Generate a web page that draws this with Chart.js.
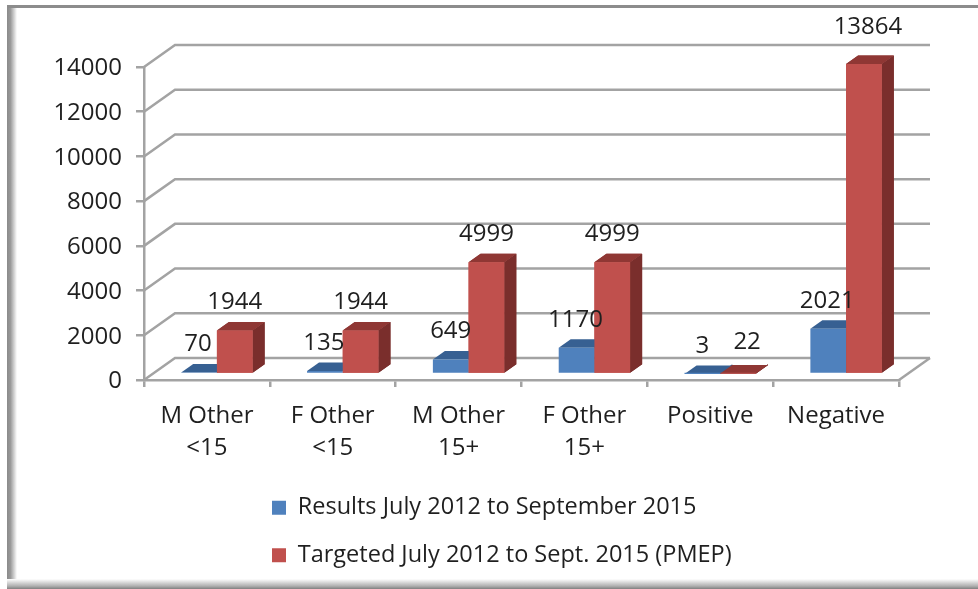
<!DOCTYPE html>
<html><head><meta charset="utf-8">
<style>html,body{margin:0;padding:0;background:#fff}#w{width:978px;height:589px;overflow:hidden}canvas{display:block;filter:blur(0.4px)}</style>
<script src="https://cdn.jsdelivr.net/npm/chart.js@4"></script>
</head><body><div id="w"><canvas id="c" width="978" height="589"></canvas></div>
<script>
const categories = [["M Other","<15"],["F Other","<15"],["M Other","15+"],["F Other","15+"],"Positive","Negative"];
const seriesResults = [70,135,649,1170,3,2021];
const seriesTargeted = [1944,1944,4999,4999,22,13864];
const seriesNames = ["Results July 2012 to September 2015","Targeted July 2012 to Sept. 2015 (PMEP)"];
const FONT = '"Open Sans"';
const GRID = '#a3a3a3', TXT = '#1f1f1f';
const BAR_SHIFT = {x:10,y:-6}, BAR_DEPTH = {x:12,y:-8.5}, WALL = {x:31,y:-22};
const shades = [{front:'#4F81BD',top:'#376092',side:'#2F5585'},{front:'#C0504D',top:'#8F3734',side:'#7A2E2C'}];
// hand placement of the data labels that sit away from their bar centre in the reference
const labelNudgeX = [[-1,-1,0,-1,0,-1],[0,0,0,0,9,4]];
const labelNudgeY = [[0,0,0,0,0,0],[0,0,0,0,-3,-9]];

function poly(ctx,pts,fill){ctx.beginPath();pts.forEach((p,i)=>i?ctx.lineTo(p[0],p[1]):ctx.moveTo(p[0],p[1]));ctx.closePath();ctx.fillStyle=fill;ctx.fill();}
function depth(ctx,el,s){
  const l=el.x-el.width/2,r=el.x+el.width/2,t=el.y,b=el.base,dx=BAR_DEPTH.x,dy=BAR_DEPTH.y;
  poly(ctx,[[r,t],[r+dx,t+dy],[r+dx,b+dy],[r,b]],s.side);
  poly(ctx,[[l,t],[l+dx,t+dy],[r+dx,t+dy],[r,t]],s.top);
}

const frame3d = { id:'frame3d',
  beforeDraw(chart){
    const ctx=chart.ctx, W=chart.width, H=chart.height;
    ctx.save();
    ctx.fillStyle='#fff';ctx.fillRect(0,0,W,H);
    let g=ctx.createLinearGradient(7,0,17,0);
    g.addColorStop(0,'#8a8a8a');g.addColorStop(.35,'#9a9a9a');g.addColorStop(1,'#ffffff');
    ctx.fillStyle=g;ctx.fillRect(7,5,10,H-5);
    g=ctx.createLinearGradient(0,579,0,589);
    g.addColorStop(0,'#ffffff');g.addColorStop(.7,'#b0b0b0');g.addColorStop(1,'#808080');
    ctx.fillStyle=g;ctx.fillRect(7,579,W-7,10);
    ctx.fillStyle='#8c8c8c';ctx.fillRect(7,5,W-7,3);
    ctx.restore();
  }};

const walls3d = { id:'walls3d',
  beforeDatasetsDraw(chart){
    const ctx=chart.ctx,{x,y}=chart.scales,L=x.left,R=x.right;
    ctx.save();ctx.strokeStyle=GRID;ctx.lineWidth=2.5;
    y.ticks.forEach(t=>{
      const py=y.getPixelForValue(t.value);
      ctx.beginPath();ctx.moveTo(L,py);ctx.lineTo(L+WALL.x,py+WALL.y);ctx.lineTo(R+WALL.x,py+WALL.y);ctx.stroke();
    });
    const by=y.getPixelForValue(0);
    ctx.beginPath();ctx.moveTo(R,by);ctx.lineTo(R+WALL.x,by+WALL.y);ctx.stroke();
    ctx.restore();
    ctx.save();ctx.translate(BAR_SHIFT.x,BAR_SHIFT.y);
  },
  beforeDatasetDraw(chart,args){
    args.meta.data.forEach(el=>depth(chart.ctx,el,shades[args.index]));
  },
  afterDatasetsDraw(chart){
    const ctx=chart.ctx;
    chart.getDatasetMeta(1).data.forEach(el=>{depth(ctx,el,shades[1]);el.draw(ctx);});
    ctx.restore();
    ctx.save();ctx.font='24px '+FONT;ctx.fillStyle=TXT;ctx.textAlign='center';ctx.textBaseline='middle';
    chart.data.datasets.forEach((ds,i)=>{
      chart.getDatasetMeta(i).data.forEach((el,j)=>{
        ctx.fillText(String(ds.data[j]),el.x+BAR_SHIFT.x+labelNudgeX[i][j],el.y+BAR_SHIFT.y-28+labelNudgeY[i][j]);
      });
    });
    ctx.restore();
  },
  afterLayout(chart){
    const lg=chart.legend;
    const w=lg.right-lg.left;
    lg.left=248;lg.right=248+w;
    const h=lg.bottom-lg.top;
    lg.top=472;lg.bottom=472+h;
  }};

new Chart(document.getElementById('c'),{
  type:'bar',
  data:{labels:categories,datasets:[
    {label:seriesNames[0],data:seriesResults,backgroundColor:shades[0].front,clip:false,categoryPercentage:0.5675,barPercentage:1},
    {label:seriesNames[1],data:seriesTargeted,backgroundColor:shades[1].front,clip:false,categoryPercentage:0.5675,barPercentage:1}
  ]},
  options:{
    responsive:false,animation:false,
    layout:{padding:{left:0,top:67,right:79,bottom:0}},
    plugins:{
      tooltip:{enabled:false},
      legend:{position:'bottom',align:'start',fullSize:false,labels:{font:{family:FONT,size:23.5},color:TXT,boxWidth:14,boxHeight:14,padding:24}}
    },
    scales:{
      x:{
        afterFit(s){s.height=104;},
        grid:{drawOnChartArea:false,drawTicks:true,tickLength:7,color:GRID,lineWidth:2.5},
        border:{color:GRID,width:2.5},
        ticks:{font:{family:FONT,size:24,lineHeight:1.33},color:TXT,padding:13,maxRotation:0,autoSkip:false}
      },
      y:{
        min:0,max:14000,
        afterFit(s){s.width=144;},
        grid:{drawOnChartArea:false,drawTicks:true,tickLength:8,color:GRID,lineWidth:2.5},
        border:{color:GRID,width:2.5},
        ticks:{stepSize:2000,callback:v=>String(v),font:{family:FONT,size:24},color:TXT,padding:14,labelOffset:1.5}
      }
    }
  },
  plugins:[frame3d,walls3d]
});
</script></body></html>
